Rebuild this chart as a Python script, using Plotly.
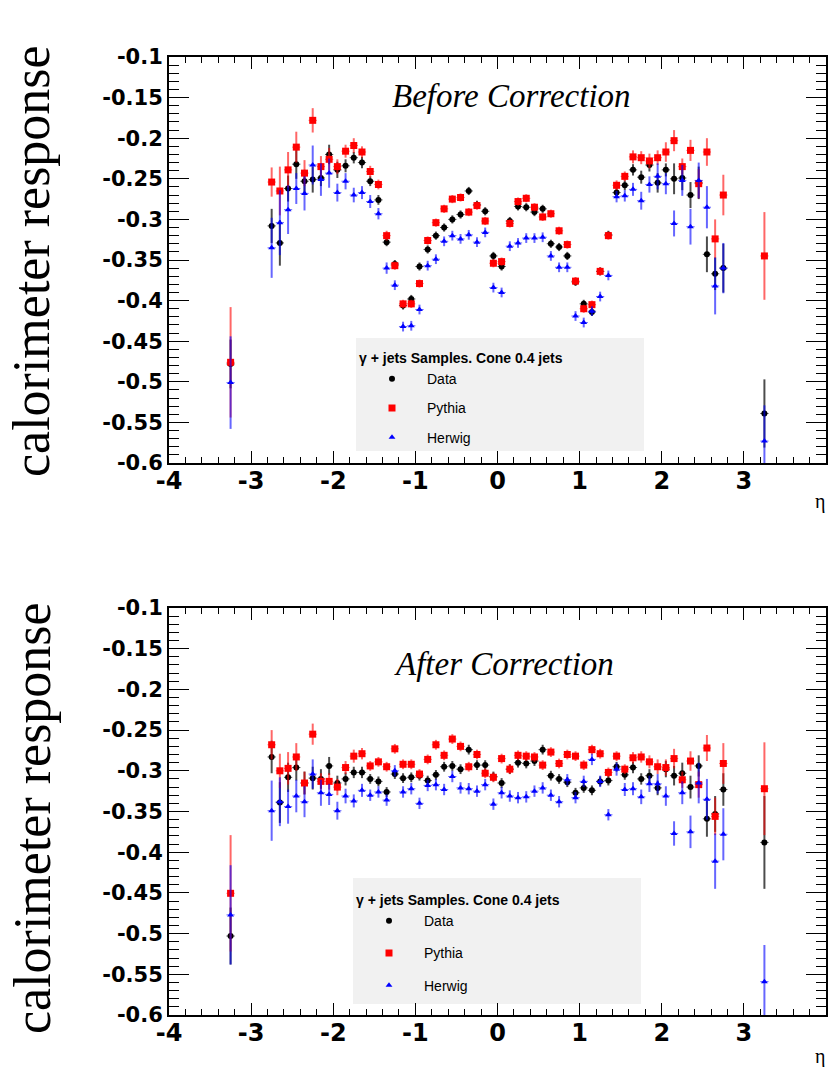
import plotly.graph_objects as go

# Jet eta bin centres (0.1 wide bins in the central region, two wide forward bins)
ETA = [-3.25,
       -2.75, -2.65, -2.55, -2.45, -2.35, -2.25, -2.15, -2.05, -1.95, -1.85,
       -1.75, -1.65, -1.55, -1.45, -1.35, -1.25, -1.15, -1.05, -0.95, -0.85,
       -0.75, -0.65, -0.55, -0.45, -0.35, -0.25, -0.15, -0.05, 0.05, 0.15,
       0.25, 0.35, 0.45, 0.55, 0.65, 0.75, 0.85, 0.95, 1.05, 1.15,
       1.25, 1.35, 1.45, 1.55, 1.65, 1.75, 1.85, 1.95, 2.05, 2.15,
       2.25, 2.35, 2.45, 2.55, 2.65, 2.75,
       3.25]
BIN_HALF_WIDTH = 0.05

# ---------------- Before correction ----------------
BEFORE_DATA = [-0.478,
               -0.308, -0.329, -0.262, -0.232, -0.253, -0.251, -0.249, -0.220, -0.239, -0.234,
               -0.224, -0.230, -0.253, -0.276, -0.328, -0.355, -0.406, -0.398, -0.358, -0.337,
               -0.320, -0.310, -0.300, -0.294, -0.265, -0.282, -0.290, -0.345, -0.358, -0.302,
               -0.284, -0.285, -0.291, -0.287, -0.330, -0.334, -0.345, -0.377, -0.404, -0.414,
               -0.364, -0.319, -0.267, -0.258, -0.239, -0.248, -0.233, -0.255, -0.239, -0.250,
               -0.249, -0.270, -0.255, -0.343, -0.367, -0.360,
               -0.539]
BEFORE_DATA_ERR = [0.030,
                   0.021, 0.028, 0.016, 0.018, 0.014, 0.016, 0.010, 0.012, 0.010, 0.008,
                   0.007, 0.007, 0.006, 0.006, 0.005, 0.005, 0.005, 0.005, 0.005, 0.005,
                   0.005, 0.005, 0.005, 0.005, 0.005, 0.005, 0.005, 0.005, 0.005, 0.005,
                   0.005, 0.005, 0.005, 0.005, 0.005, 0.005, 0.005, 0.005, 0.005, 0.005,
                   0.005, 0.005, 0.006, 0.006, 0.007, 0.008, 0.008, 0.012, 0.008, 0.019,
                   0.015, 0.016, 0.020, 0.022, 0.020, 0.030,
                   0.042]
BEFORE_PYTHIA = [-0.476,
                 -0.254, -0.265, -0.239, -0.211, -0.243, -0.178, -0.235, -0.226, -0.235, -0.216,
                 -0.209, -0.217, -0.241, -0.257, -0.320, -0.357, -0.404, -0.404, -0.379, -0.326,
                 -0.304, -0.287, -0.275, -0.273, -0.291, -0.283, -0.302, -0.354, -0.352, -0.305,
                 -0.278, -0.274, -0.285, -0.297, -0.293, -0.314, -0.331, -0.376, -0.410, -0.405,
                 -0.364, -0.320, -0.258, -0.247, -0.223, -0.224, -0.228, -0.224, -0.217, -0.203,
                 -0.235, -0.215, -0.256, -0.217, -0.324, -0.270,
                 -0.345]
BEFORE_PYTHIA_ERR = [0.068,
                     0.018, 0.030, 0.022, 0.019, 0.016, 0.015, 0.013, 0.014, 0.009, 0.008,
                     0.009, 0.007, 0.007, 0.006, 0.006, 0.005, 0.005, 0.005, 0.005, 0.005,
                     0.005, 0.005, 0.005, 0.005, 0.005, 0.005, 0.005, 0.005, 0.005, 0.005,
                     0.005, 0.005, 0.005, 0.005, 0.005, 0.005, 0.005, 0.005, 0.005, 0.005,
                     0.005, 0.005, 0.006, 0.006, 0.008, 0.008, 0.009, 0.009, 0.012, 0.013,
                     0.010, 0.013, 0.018, 0.017, 0.024, 0.025,
                     0.054]
BEFORE_HERWIG = [-0.501,
                 -0.335, -0.304, -0.288, -0.262, -0.268, -0.233, -0.251, -0.243, -0.267, -0.253,
                 -0.270, -0.267, -0.278, -0.293, -0.360, -0.381, -0.432, -0.431, -0.411, -0.357,
                 -0.349, -0.327, -0.320, -0.324, -0.319, -0.328, -0.316, -0.384, -0.390, -0.333,
                 -0.329, -0.323, -0.323, -0.322, -0.345, -0.359, -0.359, -0.419, -0.427, -0.413,
                 -0.395, -0.369, -0.272, -0.271, -0.263, -0.277, -0.257, -0.247, -0.256, -0.305,
                 -0.252, -0.309, -0.252, -0.285, -0.382, -0.360,
                 -0.573]
BEFORE_HERWIG_ERR = [0.057,
                     0.037, 0.040, 0.030, 0.019, 0.021, 0.024, 0.020, 0.018, 0.011, 0.010,
                     0.009, 0.008, 0.008, 0.007, 0.007, 0.006, 0.006, 0.006, 0.006, 0.006,
                     0.006, 0.006, 0.006, 0.006, 0.006, 0.006, 0.006, 0.006, 0.006, 0.006,
                     0.006, 0.006, 0.006, 0.006, 0.006, 0.006, 0.006, 0.006, 0.006, 0.006,
                     0.006, 0.006, 0.007, 0.007, 0.008, 0.011, 0.010, 0.016, 0.013, 0.016,
                     0.019, 0.022, 0.022, 0.026, 0.035, 0.031,
                     0.044]

# ---------------- After correction ----------------
AFTER_DATA = [-0.503,
              -0.283, -0.339, -0.308, -0.296, -0.315, -0.309, -0.310, -0.294, -0.315, -0.310,
              -0.302, -0.302, -0.310, -0.313, -0.326, -0.304, -0.309, -0.308, -0.306, -0.312,
              -0.305, -0.295, -0.294, -0.298, -0.274, -0.293, -0.293, -0.307, -0.315, -0.298,
              -0.290, -0.291, -0.288, -0.274, -0.306, -0.310, -0.314, -0.327, -0.321, -0.324,
              -0.313, -0.312, -0.295, -0.305, -0.296, -0.310, -0.306, -0.321, -0.298, -0.306,
              -0.303, -0.320, -0.294, -0.359, -0.353, -0.323,
              -0.388]
AFTER_DATA_ERR = [0.035,
                  0.020, 0.025, 0.018, 0.016, 0.014, 0.014, 0.012, 0.011, 0.009, 0.008,
                  0.007, 0.007, 0.006, 0.006, 0.006, 0.006, 0.006, 0.006, 0.006, 0.006,
                  0.006, 0.006, 0.006, 0.006, 0.006, 0.006, 0.006, 0.006, 0.006, 0.006,
                  0.006, 0.006, 0.006, 0.006, 0.006, 0.006, 0.006, 0.006, 0.006, 0.006,
                  0.006, 0.006, 0.006, 0.006, 0.007, 0.007, 0.008, 0.009, 0.010, 0.012,
                  0.013, 0.014, 0.013, 0.022, 0.022, 0.020,
                  0.057]
AFTER_PYTHIA = [-0.4505,
                -0.268, -0.300, -0.297, -0.283, -0.315, -0.255, -0.313, -0.313, -0.320, -0.296,
                -0.282, -0.279, -0.294, -0.289, -0.295, -0.273, -0.292, -0.292, -0.304, -0.286,
                -0.268, -0.281, -0.261, -0.270, -0.295, -0.280, -0.303, -0.308, -0.285, -0.298,
                -0.281, -0.282, -0.283, -0.293, -0.277, -0.291, -0.280, -0.282, -0.293, -0.274,
                -0.279, -0.302, -0.282, -0.298, -0.284, -0.283, -0.289, -0.295, -0.296, -0.285,
                -0.311, -0.288, -0.317, -0.272, -0.356, -0.291,
                -0.322]
AFTER_PYTHIA_ERR = [0.0715,
                    0.018, 0.021, 0.020, 0.017, 0.014, 0.013, 0.010, 0.010, 0.010, 0.008,
                    0.008, 0.007, 0.006, 0.006, 0.006, 0.006, 0.006, 0.006, 0.006, 0.006,
                    0.006, 0.006, 0.006, 0.006, 0.006, 0.006, 0.006, 0.006, 0.006, 0.006,
                    0.006, 0.006, 0.006, 0.006, 0.006, 0.006, 0.006, 0.006, 0.006, 0.006,
                    0.006, 0.006, 0.006, 0.006, 0.007, 0.007, 0.008, 0.009, 0.010, 0.012,
                    0.010, 0.012, 0.016, 0.016, 0.023, 0.025,
                    0.057]
AFTER_HERWIG = [-0.477,
                -0.349, -0.338, -0.344, -0.331, -0.338, -0.304, -0.327, -0.329, -0.349, -0.331,
                -0.337, -0.324, -0.330, -0.326, -0.336, -0.300, -0.326, -0.322, -0.340, -0.318,
                -0.317, -0.323, -0.307, -0.321, -0.322, -0.325, -0.317, -0.341, -0.327, -0.331,
                -0.333, -0.332, -0.325, -0.321, -0.330, -0.338, -0.311, -0.333, -0.313, -0.286,
                -0.313, -0.354, -0.298, -0.323, -0.322, -0.332, -0.316, -0.316, -0.331, -0.377,
                -0.327, -0.375, -0.315, -0.335, -0.411, -0.378,
                -0.559]
AFTER_HERWIG_ERR = [0.061,
                    0.037, 0.030, 0.021, 0.020, 0.019, 0.018, 0.016, 0.013, 0.011, 0.009,
                    0.008, 0.008, 0.007, 0.007, 0.007, 0.007, 0.007, 0.007, 0.007, 0.007,
                    0.007, 0.007, 0.007, 0.007, 0.007, 0.007, 0.007, 0.007, 0.007, 0.007,
                    0.007, 0.007, 0.007, 0.007, 0.007, 0.007, 0.007, 0.007, 0.007, 0.007,
                    0.007, 0.007, 0.008, 0.008, 0.008, 0.009, 0.010, 0.012, 0.012, 0.015,
                    0.014, 0.020, 0.025, 0.025, 0.034, 0.032,
                    0.045]

X_TICKS = [-4, -3, -2, -1, 0, 1, 2, 3, 4]
X_TICK_LABELS = ["-4", "-3", "-2", "-1", "0", "1", "2", "3", "4"]
Y_TICKS = [-0.6, -0.55, -0.5, -0.45, -0.4, -0.35, -0.3, -0.25, -0.2, -0.15, -0.1]
Y_TICK_LABELS = ["-0.6", "-0.55", "-0.5", "-0.45", "-0.4", "-0.35", "-0.3",
                 "-0.25", "-0.2", "-0.15", "-0.1"]

SERIES_NAMES = ["Data", "Pythia", "Herwig"]
LEGEND_TITLE = "γ + jets Samples. Cone 0.4 jets"
PANEL_TITLES = ["Before Correction", "After Correction"]
Y_TITLE = "calorimeter response"
X_TITLE = "η"

W, H = 833, 1067
STYLES = {
    "Data": dict(color="black", bar="rgba(0,0,0,0.7)", symbol="circle", size=6),
    "Pythia": dict(color="#ff0000", bar="rgba(255,0,0,0.6)", symbol="square", size=7),
    "Herwig": dict(color="#0000ff", bar="rgba(0,0,255,0.6)", symbol="triangle-up", size=6),
}


def px_x(p):
    return p / W


def px_y(p):
    return 1 - p / H


def make_trace(name, values, errors, xaxis, yaxis, legend):
    st = STYLES[name]
    return go.Scatter(
        x=ETA, y=values, mode="markers", name=name,
        xaxis=xaxis, yaxis=yaxis, legend=legend, showlegend=True,
        legendgroup=legend + name,
        marker=dict(color=st["color"], symbol=st["symbol"], size=st["size"],
                    line=dict(width=0)),
        error_y=dict(type="data", array=errors, visible=True,
                     color=st["bar"], thickness=2, width=0),
        error_x=dict(type="constant", value=BIN_HALF_WIDTH, visible=True,
                     color=st["bar"], thickness=1, width=0),
    )


fig = go.Figure()
panels = [
    ("x", "y", "legend", [BEFORE_DATA, BEFORE_PYTHIA, BEFORE_HERWIG],
     [BEFORE_DATA_ERR, BEFORE_PYTHIA_ERR, BEFORE_HERWIG_ERR]),
    ("x2", "y2", "legend2", [AFTER_DATA, AFTER_PYTHIA, AFTER_HERWIG],
     [AFTER_DATA_ERR, AFTER_PYTHIA_ERR, AFTER_HERWIG_ERR]),
]
for xa, ya, lg, vals, errs in panels:
    for name, v, e in zip(SERIES_NAMES, vals, errs):
        fig.add_trace(make_trace(name, v, e, xa, ya, lg))

tick_font_x = dict(family="DejaVu Sans", size=24, color="black", weight="bold")
tick_font_y = dict(family="DejaVu Sans", size=21, color="black", weight="bold")


def x_axis(anchor):
    return dict(
        range=[-4, 4], domain=[px_x(169), px_x(826)], anchor=anchor,
        automargin=False,
        showline=True, linecolor="black", linewidth=2, mirror="allticks",
        ticks="inside", ticklen=12, tickwidth=1, tickcolor="black",
        tickvals=X_TICKS, ticktext=X_TICK_LABELS, tickfont=tick_font_x,
        ticklabelstandoff=-5,
        minor=dict(ticks="inside", ticklen=6, dtick=0.2, tickwidth=1, tickcolor="black"),
        showgrid=False, zeroline=False,
    )


def y_axis(anchor, top, bottom):
    return dict(
        range=[-0.6, -0.1], domain=[px_y(bottom), px_y(top)], anchor=anchor,
        automargin=False,
        showline=True, linecolor="black", linewidth=2, mirror="allticks",
        ticks="inside", ticklen=20, tickwidth=1, tickcolor="black",
        tickvals=Y_TICKS, ticktext=Y_TICK_LABELS, tickfont=tick_font_y,
        ticklabelstandoff=0,
        minor=dict(ticks="inside", ticklen=10, dtick=0.01, tickwidth=1, tickcolor="black"),
        showgrid=False, zeroline=False,
    )


def legend_box(left, top, gap):
    return dict(
        x=px_x(left), y=px_y(top), xanchor="left", yanchor="top",
        bgcolor="rgba(0,0,0,0)", borderwidth=0,
        font=dict(family="Liberation Sans", size=14, color="black"),
        title=dict(text="<b>" + LEGEND_TITLE + "</b>",
                   font=dict(family="Liberation Sans", size=14, color="black")),
        tracegroupgap=gap, itemwidth=60,
    )


annotations = []
for (cx, cy), text in zip([(512, 96), (504, 664)], PANEL_TITLES):
    annotations.append(dict(
        x=px_x(cx), y=px_y(cy), xref="paper", yref="paper", showarrow=False,
        text="<i>" + text + "</i>", xanchor="center", yanchor="middle",
        font=dict(family="Liberation Serif", size=33, color="black")))
for cy in [261, 818]:
    annotations.append(dict(
        x=px_x(32), y=px_y(cy), xref="paper", yref="paper", showarrow=False,
        text=Y_TITLE, textangle=-90, xanchor="center", yanchor="middle",
        font=dict(family="Liberation Serif", size=52, color="black")))
for cy in [502, 1056]:
    annotations.append(dict(
        x=px_x(820), y=px_y(cy), xref="paper", yref="paper", showarrow=False,
        text=X_TITLE, xanchor="center", yanchor="middle",
        font=dict(family="Liberation Serif", size=20, color="black")))

shapes = [
    dict(type="rect", xref="paper", yref="paper", layer="below",
         x0=px_x(356), x1=px_x(644), y0=px_y(451), y1=px_y(338),
         fillcolor="#f1f1f1", line=dict(width=0)),
    dict(type="rect", xref="paper", yref="paper", layer="below",
         x0=px_x(353), x1=px_x(641), y0=px_y(1004), y1=px_y(878),
         fillcolor="#f1f1f1", line=dict(width=0)),
]

fig.update_layout(
    width=W, height=H, margin=dict(l=0, r=0, t=0, b=0, autoexpand=False),
    paper_bgcolor="white", plot_bgcolor="rgba(0,0,0,0)",
    xaxis=x_axis("y"), yaxis=y_axis("x", 57, 463),
    xaxis2=x_axis("y2"), yaxis2=y_axis("x2", 608, 1015),
    legend=legend_box(357, 345, 8),
    legend2=legend_box(354, 887, 11),
    annotations=annotations, shapes=shapes,
)

fig.write_html("out.html")
